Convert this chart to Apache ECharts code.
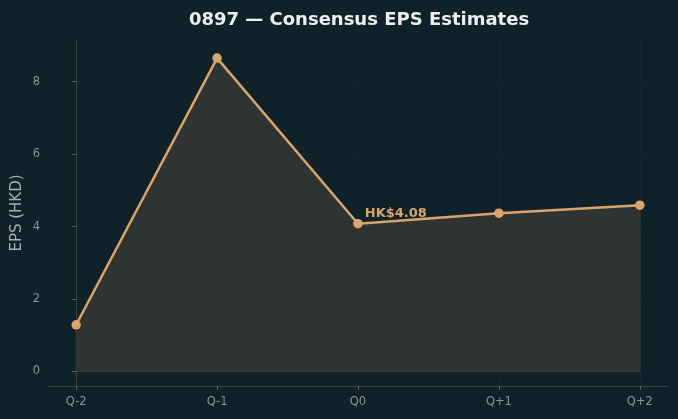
<!DOCTYPE html>
<html><head><meta charset="utf-8">
<script src="https://cdn.jsdelivr.net/npm/echarts@6/dist/echarts.min.js"></script>
<style>html,body{margin:0;padding:0;background:#0f2129;}#c{width:678px;height:419px;}</style>
</head><body><div id="c"></div>
<script>
const categories = ['Q-2','Q-1','Q0','Q+1','Q+2'];
const epsValues = [1.29, 8.65, 4.08, 4.37, 4.59];
const yTicks = [0, 2, 4, 6, 8];
const labelText = 'HK$4.08';
const labelIndex = 2;

const xIdx = categories.map((c,i)=>i);
const lineData = epsValues.map((v,i)=>[i,v]);
const edgeData = [[0,epsValues[0]],[0,0],[categories.length-1,0],[categories.length-1,epsValues[epsValues.length-1]]];

const chart = echarts.init(document.getElementById('c'));
chart.setOption({
  backgroundColor:'#0f2129',
  animation:false,
  title:{text:'0897 — Consensus EPS Estimates',left:354,textAlign:'center',top:6,
    textStyle:{color:'#eeeeee',fontSize:18,fontWeight:'bold',fontFamily:'DejaVu Sans'}},
  grid:{left:48,right:10,top:40,bottom:33,outerBoundsMode:'none',containLabel:false},
  xAxis:{type:'value',min:-0.2,max:4.2,
    axisLine:{show:true,onZero:false,lineStyle:{color:'#3b4347',width:1}},
    axisTick:{show:true,length:4,customValues:xIdx,lineStyle:{color:'#5a6266'}},
    axisLabel:{customValues:xIdx,formatter:v=>categories[Math.round(v)],color:'#8f9599',fontSize:11.5,margin:10,fontFamily:'DejaVu Sans'},
    splitLine:{show:true,lineStyle:{color:'#16262e',width:1}}},
  yAxis:{type:'value',min:-0.4,max:9.15,name:'EPS (HKD)',nameLocation:'middle',nameGap:23,nameMoveOverlap:false,
    nameTextStyle:{color:'#a8aeb1',fontSize:15,fontFamily:'DejaVu Sans'},
    axisLine:{show:true,lineStyle:{color:'#3b4347',width:1}},
    axisTick:{show:true,length:4,customValues:yTicks,lineStyle:{color:'#5a6266'}},
    axisLabel:{customValues:yTicks,color:'#8f9599',fontSize:11.5,margin:8,fontFamily:'DejaVu Sans'},
    splitLine:{show:true,lineStyle:{color:'#16262e',width:1}}},
  series:[
    {type:'line',data:edgeData,symbol:'none',silent:true,z:1,
      lineStyle:{color:'#43453f',width:1}},
    {type:'line',data:lineData,symbol:'circle',symbolSize:9.5,z:3,
      lineStyle:{color:'#d9a46e',width:2.5},itemStyle:{color:'#d9a46e'},
      areaStyle:{color:'#2f3433',opacity:1,origin:0},
      label:{show:true,formatter:p=>p.dataIndex===labelIndex?labelText:'',position:'right',
        offset:[0,-10],distance:2,color:'#d9a46e',fontSize:13,fontWeight:'bold',fontFamily:'DejaVu Sans'}}
  ]
});
</script></body></html>
